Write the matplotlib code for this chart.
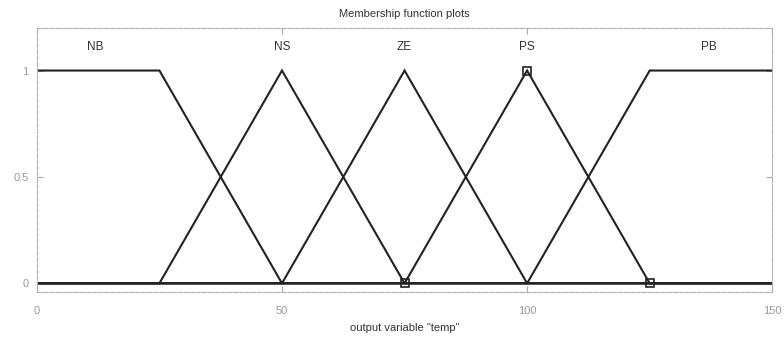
import numpy as np
import matplotlib.pyplot as plt

plt.rcParams['font.family'] = ['Liberation Sans', 'DejaVu Sans']

# membership functions of output variable "temp"
mf_names = ['NB', 'NS', 'ZE', 'PS', 'PB']
mf_x = [
    [0, 25, 50, 150],
    [0, 25, 50, 75, 150],
    [0, 50, 75, 100, 150],
    [0, 75, 100, 125, 150],
    [0, 100, 125, 150],
]
mf_y = [
    [1, 1, 0, 0],
    [0, 0, 1, 0, 0],
    [0, 0, 1, 0, 0],
    [0, 0, 1, 0, 0],
    [0, 0, 1, 1],
]
label_x = [12, 50, 75, 100, 137]
label_y = 1.11
sel_params = [75, 100, 125]  # vertices of the highlighted MF (PS)
sel_vals = [0, 1, 0]

fig = plt.figure(figsize=(7.84, 3.37), dpi=100)
ax = fig.add_axes([0.047, 0.134, 0.938, 0.783])

for xs, ys in zip(mf_x, mf_y):
    ax.plot(xs, ys, color='#222222', lw=1.5, solid_joinstyle='miter')

ax.plot(sel_params, sel_vals, ls='none', marker='s', ms=6, mfc='none',
        mec='#222222', mew=1.2)

for name, lx in zip(mf_names, label_x):
    ax.text(lx, label_y, name, ha='center', va='center', fontsize=8.5,
            color='#333333')

ax.set_xlim(0, 150)
ax.set_ylim(-0.04, 1.2)
ax.set_xticks([0, 50, 100, 150])
ax.set_yticks([0, 0.5, 1])
ax.set_yticklabels(['0', '0.5', '1'])
ax.tick_params(direction='in', length=4, labelsize=8, colors='#aaaaaa',
               labelcolor='#999999', top=True, right=True)
ax.tick_params(axis='x', pad=10)
ax.tick_params(axis='y', pad=6)
for sp in ax.spines.values():
    sp.set_color('#b0b0b0')
    sp.set_linewidth(0.8)
    sp.set_linestyle((0, (4, 1.5)))

ax.set_title('Membership function plots', fontsize=8, color='#333333', pad=8)
ax.set_xlabel('output variable "temp"', fontsize=8, color='#333333', labelpad=5)

fig.savefig('out.png', dpi=100)
